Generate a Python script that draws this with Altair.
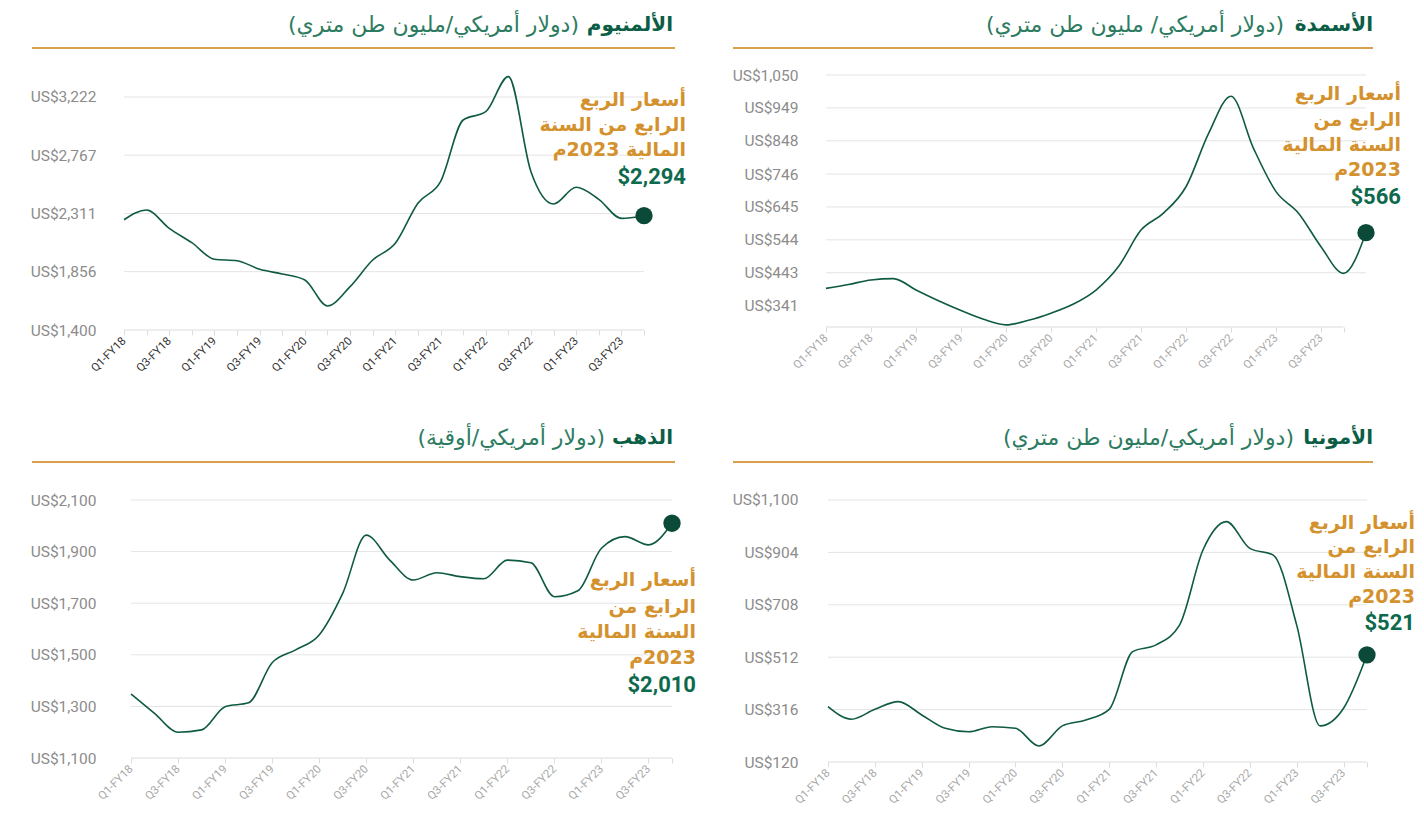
import altair as alt
import pandas as pd

# ---------------- data ----------------
quarters = [
    "Q1-FY18", "Q2-FY18", "Q3-FY18", "Q4-FY18",
    "Q1-FY19", "Q2-FY19", "Q3-FY19", "Q4-FY19",
    "Q1-FY20", "Q2-FY20", "Q3-FY20", "Q4-FY20",
    "Q1-FY21", "Q2-FY21", "Q3-FY21", "Q4-FY21",
    "Q1-FY22", "Q2-FY22", "Q3-FY22", "Q4-FY22",
    "Q1-FY23", "Q2-FY23", "Q3-FY23", "Q4-FY23",
    "Q1-FY24",
]

aluminium = [2262, 2338, 2195, 2083, 1953, 1942, 1875, 1838, 1791, 1588, 1739, 1947,
             2078, 2391, 2560, 3042, 3107, 3381, 2638, 2385, 2516, 2422, 2273, 2294]
fertilizers = [395, 407, 421, 425, 390, 357, 327, 300, 283, 297, 319, 347, 390,
               462, 574, 626, 707, 870, 985, 825, 692, 626, 523, 441, 566]
gold = [1348, 1273, 1200, 1209, 1299, 1314, 1469, 1519, 1577, 1738, 1964, 1867,
        1790, 1818, 1803, 1795, 1867, 1857, 1725, 1748, 1913, 1958, 1926, 2010]
ammonia = [327, 280, 317, 346, 296, 246, 233, 252, 246, 180, 255, 277, 317, 533,
           558, 632, 913, 1019, 919, 894, 632, 255, 321, 521]

alu_ticks = [1400, 1856, 2311, 2767, 3222]
fert_ticks = [341, 443, 544, 645, 746, 848, 949, 1050]
gold_ticks = [1100, 1300, 1500, 1700, 1900, 2100]
amm_ticks = [120, 316, 512, 708, 904, 1100]

titles_bold = ["الألمنيوم", "الأسمدة", "الذهب", "الأمونيا"]
titles_rest = ["(دولار أمريكي/مليون طن متري)", "(دولار أمريكي/ مليون طن متري)",
               "(دولار أمريكي/أوقية)", "(دولار أمريكي/مليون طن متري)"]
ann_3 = ["أسعار الربع", "الرابع من السنة", "المالية 2023م"]
ann_4 = ["أسعار الربع", "الرابع من", "السنة المالية", "2023م"]
ann_values = ["$2,294", "$566", "$2,010", "$521"]

# ---------------- style ----------------
LINE = "#0f5a43"
DOT = "#0b4a38"
ORANGE = "#d4922e"
VALUE_GREEN = "#0e6a4d"
TITLE_GREEN = "#0b5e45"
SUB_GREEN = "#2d7c61"
RULE = "#d9a14b"
GRID = "#e4e4e4"
BASE = "#dcdcdc"
YLAB = "#8c8c8c"
AR_FONT = "DejaVu Sans"
NUM_FONT = "Roboto"
RLM = "\u200f"

QLIST = "[" + ",".join("'" + q + "'" for q in quarters) + "]"
ONE = pd.DataFrame({"k": [0]})


def txt(t, x, y, size, color, weight="normal", font=AR_FONT, align="right"):
    return alt.Chart(pd.DataFrame({"t": [t]})).mark_text(
        align=align, baseline="middle", fontSize=size, fontWeight=weight,
        color=color, font=font
    ).encode(x=alt.value(x), y=alt.value(y), text="t:N")


def panel(values, width, xdomain, grid_end, every_tick, xlabel_color, yticks, ydomain, height,
          title_i, bold_right, rest_right, title_y, rule_x1, rule_x2, rule_y,
          ann_lines, ann_right, ann_ys, val_y, anchor):
    n = len(values)
    df = pd.DataFrame({"idx": list(range(n)), "value": values})
    last = df.tail(1)
    if every_tick:
        xt = list(range(24))
    else:
        xt = list(range(0, 23, 2)) + [23]
    xs = alt.Scale(domain=xdomain, nice=False, zero=False)
    ys = alt.Scale(domain=ydomain, nice=False, zero=False)
    xaxis = alt.Axis(
        values=xt, title=None, grid=False, domain=False,
        labelExpr="datum.value % 2 == 0 ? " + QLIST + "[datum.value] : ''",
        labelAngle=-45, labelAlign="right", labelBaseline="middle",
        labelFontSize=11.5, labelColor=xlabel_color, labelFont=NUM_FONT,
        labelPadding=4, tickColor=BASE, tickSize=5,
        labelOverlap=False, labelBound=False,
    )
    yaxis = alt.Axis(
        values=yticks, title=None, grid=False,
        domain=False, ticks=False, labelPadding=28,
        labelExpr="'US$' + format(datum.value, ',')",
        labelFontSize=15.5, labelColor=YLAB, labelFont=NUM_FONT,
        labelOverlap=False, labelBound=False,
    )
    xenc = alt.X("idx:Q", scale=xs, axis=xaxis)
    yenc = alt.Y("value:Q", scale=ys, axis=yaxis)

    # gridlines (through the scales) from the first quarter to the grid end
    gdf = pd.DataFrame({"value": yticks[1:], "idx": 0, "x1": grid_end})
    grid = alt.Chart(gdf).mark_rule(color=GRID, strokeWidth=1).encode(
        x=xenc, x2="x1:Q", y=yenc)
    bdf = pd.DataFrame({"value": [ydomain[0]], "idx": [0], "x1": [23]})
    base = alt.Chart(bdf).mark_rule(color=BASE, strokeWidth=1).encode(
        x=xenc, x2="x1:Q", y=yenc)

    line = alt.Chart(df).mark_line(interpolate="monotone", color=LINE, strokeWidth=1.6).encode(x=xenc, y=yenc)
    dot = alt.Chart(last).mark_circle(size=300, color=DOT, opacity=1).encode(x=xenc, y=yenc)

    L, T, R, B = anchor
    anc = alt.Chart(ONE).mark_rule(color="white", opacity=0).encode(
        x=alt.value(L), x2=alt.value(R), y=alt.value(T), y2=alt.value(B))

    rule = alt.Chart(ONE).mark_rule(color=RULE, strokeWidth=2).encode(
        x=alt.value(rule_x1), x2=alt.value(rule_x2), y=alt.value(rule_y))

    layers = [anc, grid, base, rule, line, dot,
              txt(RLM + titles_bold[title_i], bold_right, title_y, 20, TITLE_GREEN, "bold"),
              txt(RLM + titles_rest[title_i] + RLM, rest_right, title_y, 22, SUB_GREEN)]
    for s, yy in zip(ann_lines, ann_ys):
        layers.append(txt(RLM + s, ann_right, yy, 19, ORANGE, "bold"))
    layers.append(txt(ann_values[title_i], ann_right, val_y, 22, VALUE_GREEN, "bold", font=NUM_FONT))
    return alt.layer(*layers).properties(width=width, height=height)


# column 1 plot left = page 124, column 2 plot left = page 826
p_alu = panel(aluminium, 520, [0, 23], 23, True, "#333333", alu_ticks, [1400, 3480], 266,
              0, 549, 455, -39, -92, 551, -16,
              ann_3, 562, [36, 61, 86], 113, (-116, -56, 576, 336))
p_fert = panel(fertilizers, 540, [0, 24], 24, False, "#a8a8a8", fert_ticks, [276.5, 1083.8], 263,
               1, 547, 458, -39, -93, 547, -16,
               ann_4, 575, [30, 56, 81, 106], 133, (-126, -56, 590, 336))
p_gold = panel(gold, 548, [-0.2972, 23], 23, False, "#a8a8a8", gold_ticks, [1100, 2138.8], 268,
               2, 549, 481, -52, -92, 551, -28,
               ann_4, 572, [90, 117, 142, 168], 195, (-116, -90, 576, -90))
p_amm = panel(ammonia, 541, [-0.0854, 23], 23, False, "#a8a8a8", amm_ticks, [120, 1137.4], 272,
              3, 547, 468, -52, -93, 547, -28,
              ann_4, 589, [33, 57, 82, 107], 133, (-126, -90, 590, -90))

chart = alt.concat(
    p_alu, p_fert, p_gold, p_amm, columns=2, spacing=0, align="none", bounds="full",
).properties(
    padding={"left": 0, "top": 0, "right": 0, "bottom": 0}
).configure_view(stroke=None)

chart.save("out.html", embed_options={"renderer": "svg", "actions": False})
